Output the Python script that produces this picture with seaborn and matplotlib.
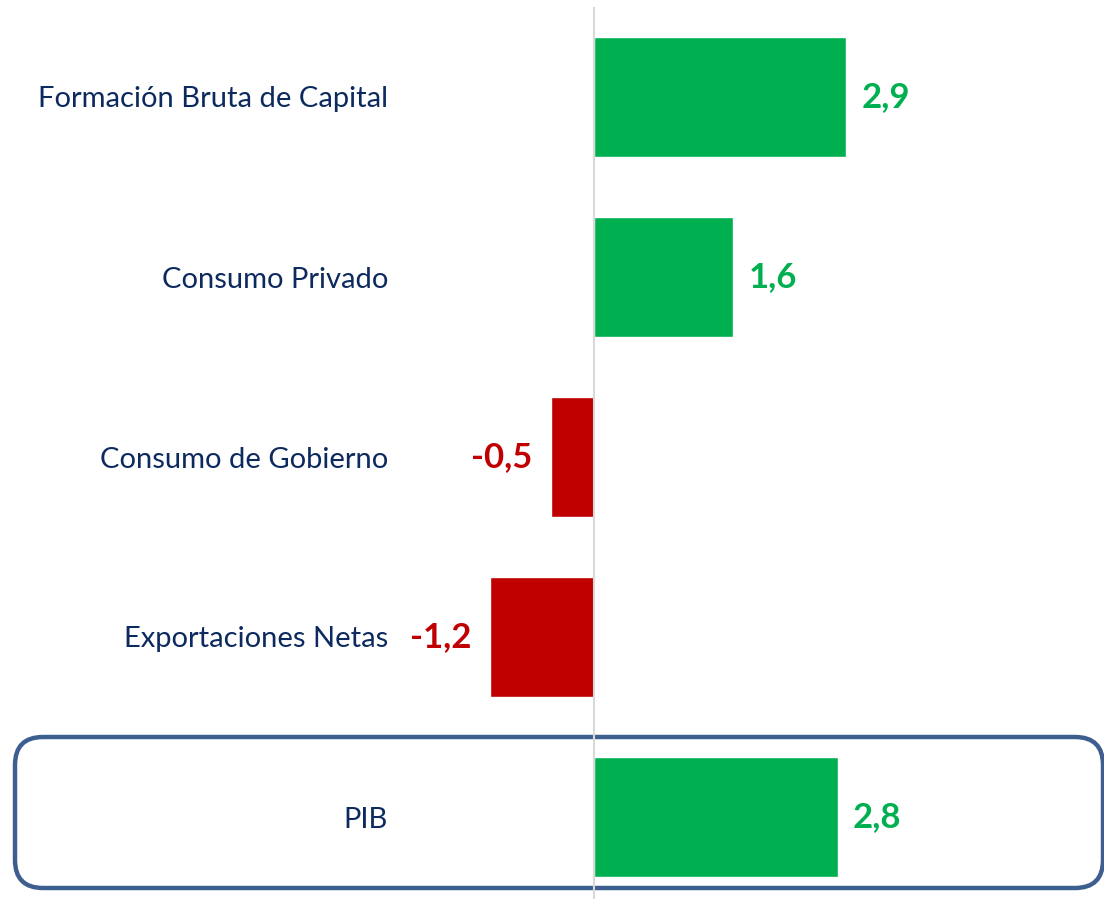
import seaborn as sns
import matplotlib.pyplot as plt
import matplotlib.transforms as mtransforms
from matplotlib.patches import FancyBboxPatch
import pandas as pd

categories = ['Formación Bruta de Capital', 'Consumo Privado', 'Consumo de Gobierno',
              'Exportaciones Netas', 'PIB']
values = [2.9, 1.6, -0.5, -1.2, 2.8]
labels = ['2,9', '1,6', '-0,5', '-1,2', '2,8']

GREEN = '#00b050'
RED = '#c00000'
NAVY = '#0d2a5e'

df = pd.DataFrame({'cat': categories, 'val': values})
palette = {c: (GREEN if v >= 0 else RED) for c, v in zip(categories, values)}

sns.set_theme(style='white')
plt.rcParams['font.family'] = ['Lato', 'DejaVu Sans']

fig = plt.figure(figsize=(11.04, 8.99), dpi=100)
ax = fig.add_axes([395 / 1104, 0, 1 - 395 / 1104, 1 - 7 / 899])
ax.set_facecolor('none')

sns.barplot(data=df, x='val', y='cat', hue='cat', palette=palette, orient='h',
            width=0.667, saturation=1, legend=False, ax=ax)

ax.set_xlim(-(594 - 395) / 87, (1104 - 594) / 87)
ax.set_ylim(4 + (899 - 817) / 180, -0.5)
ax.axvline(0, color='#d9d9d9', lw=1.5, zorder=5)

for i, (v, t) in enumerate(zip(values, labels)):
    c = GREEN if v >= 0 else RED
    ax.annotate(t, (v, i), xytext=(11 if v >= 0 else -13, 0), textcoords='offset points',
                ha='left' if v >= 0 else 'right', va='center',
                fontsize=25, fontweight='bold', color=c)

ax.set_xlabel('')
ax.set_ylabel('')
ax.set_xticks([])
ax.tick_params(axis='y', length=0, pad=5, labelsize=21, labelcolor=NAVY)
sns.despine(ax=ax, left=True, bottom=True)

box = FancyBboxPatch((15, 11), 1088, 151, boxstyle='round,pad=0,rounding_size=28',
                     transform=mtransforms.IdentityTransform(), fill=False,
                     edgecolor='#3d5f8f', linewidth=3.2, zorder=-1)
fig.patches.append(box)

fig.savefig('out.png', dpi=100)
